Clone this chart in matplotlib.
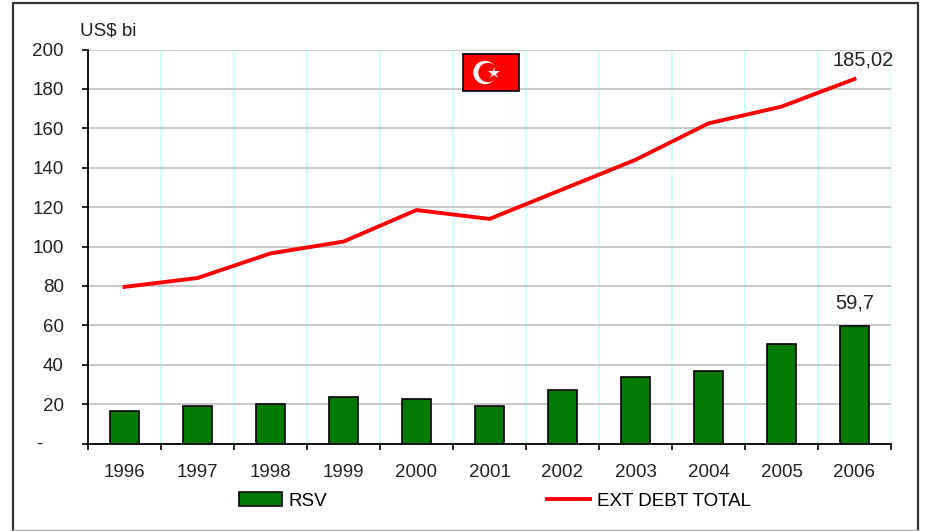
import matplotlib
matplotlib.use("Agg")
import matplotlib.pyplot as plt
from matplotlib.patches import Rectangle, Circle

years = ['1996', '1997', '1998', '1999', '2000', '2001', '2002', '2003', '2004', '2005', '2006']
rsv = [16.5, 19.2, 20, 23.5, 22.5, 19, 27.3, 34, 36.7, 50.5, 59.7]
ext_debt = [79.5, 84, 96.5, 102.5, 118.5, 114, 129, 144, 162.5, 171, 185.02]
y_ticks = [0, 20, 40, 60, 80, 100, 120, 140, 160, 180, 200]
y_labels = ['', '20', '40', '60', '80', '100', '120', '140', '160', '180', '200']

W, H = 926, 531
plt.rcParams['font.family'] = ['Liberation Sans', 'DejaVu Sans']

fig = plt.figure(figsize=(W / 100, H / 100), dpi=100)

# outer frame, dark on three sides and grey at the bottom
frame = fig.add_axes([0, 0, 1, 1])
frame.set_xlim(0, W)
frame.set_ylim(H, 0)
frame.axis('off')
frame.plot([13, 13, 918, 918], [530, 3, 3, 530], color='#333333', lw=1.6)
frame.plot([13, 918], [530, 530], color='#aaaaaa', lw=1)

ax = fig.add_axes([88 / W, 1 - 443.5 / H, (891 - 88) / W, (443.5 - 49.5) / H])
ax.patch.set_alpha(0)
x = list(range(len(years)))

bars = ax.bar(x, rsv, width=0.41, color='#007a00', edgecolor='black', linewidth=1.2, zorder=3)
line, = ax.plot(x, ext_debt, color='#ff0000', lw=2.8, zorder=4)

ax.set_xlim(-0.5, len(years) - 0.5)
ax.set_ylim(0, 200)
ax.set_yticks(y_ticks)
ax.set_yticklabels(y_labels)
ax.set_xticks(x)
ax.set_xticklabels(years)
ax.set_xticks([i - 0.5 for i in range(len(years) + 1)], minor=True)

ax.grid(axis='y', color='#c8c8c8', lw=1.4, zorder=1)
ax.grid(axis='x', which='minor', color='#ccffff', lw=1.4, zorder=1)
ax.tick_params(axis='x', which='major', length=0, labelsize=13.5, pad=15, labelcolor='#222222')
ax.tick_params(axis='x', which='minor', length=4.5, width=1.2, color='black')
ax.tick_params(axis='y', length=4.5, width=1.2, labelsize=13.5, pad=13, labelcolor='#222222')

ax.spines['top'].set_visible(False)
ax.spines['right'].set_visible(False)
ax.spines['left'].set_linewidth(1.3)
ax.spines['bottom'].set_linewidth(1.3)

ax.annotate('185,02', (len(years) - 1, ext_debt[-1]), xytext=(6, 7), textcoords='offset points',
            ha='center', va='bottom', fontsize=14.5, color='#222222')
ax.annotate('59,7', (len(years) - 1, rsv[-1]), xytext=(0, 10), textcoords='offset points',
            ha='center', va='bottom', fontsize=14.5, color='#222222')
frame.text(80, 31, 'US$ bi', ha='left', va='center', fontsize=13.5, color='#222222')
# the zero label sits further left than the other tick labels
frame.text(39.5, 444, '-', ha='center', va='center', fontsize=13.5, color='#222222')

fig.legend([bars, line], ['RSV', 'EXT DEBT TOTAL'], loc='center', bbox_to_anchor=(495 / W, 1 - 501 / H),
           ncol=2, frameon=False, fontsize=13.5, handlelength=2.3, handletextpad=0.35,
           columnspacing=11.7, borderpad=0)

# flag
flag = fig.add_axes([463 / W, 1 - 91 / H, 56 / W, 37 / H])
flag.set_xlim(463, 519)
flag.set_ylim(91, 54)
flag.axis('off')
flag.add_patch(Rectangle((463, 54), 56, 37, facecolor='#ff0000', edgecolor='black', lw=1.2, clip_on=False))
flag.add_patch(Circle((485, 72.5), 11, color='white'))
flag.add_patch(Circle((488, 72.5), 9, color='#ff0000'))
flag.plot([494], [73], marker='*', color='white', ms=9, mew=0)

fig.savefig('out.png', dpi=100)
